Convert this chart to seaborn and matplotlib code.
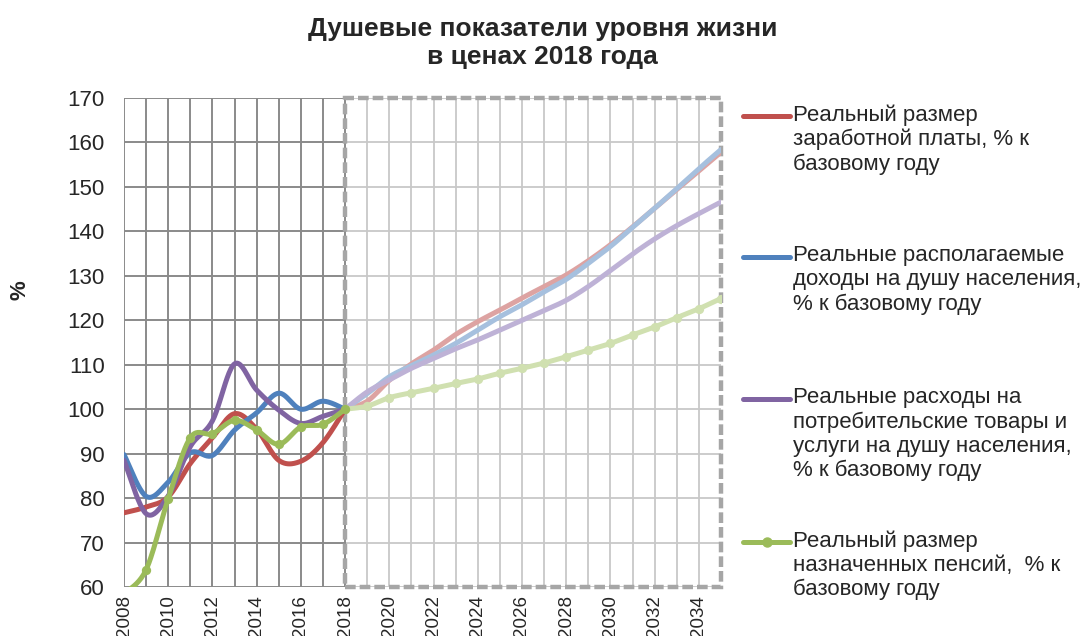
import numpy as np
import pandas as pd
import matplotlib
matplotlib.use("Agg")
import matplotlib.pyplot as plt
import seaborn as sns
from matplotlib.lines import Line2D
from matplotlib.patches import Rectangle

# --- данные ---
years_hist = list(range(2008, 2019))
years_fc = list(range(2018, 2036))

wage_hist = [76.7, 78.0, 80.3, 87.8, 93.6, 99.0, 95.5, 88.5, 88.3, 92.5, 100.0]
income_hist = [89.8, 80.4, 83.6, 90.2, 89.6, 95.3, 99.2, 103.6, 100.0, 101.8, 100.0]
cons_hist = [88.5, 76.5, 80.5, 91.6, 97.4, 110.2, 104.3, 99.8, 96.8, 98.4, 100.0]
pens_hist = [58.5, 63.9, 79.9, 93.6, 94.5, 97.5, 95.3, 92.1, 96.0, 96.6, 100.0]

wage_fc = [100.0, 101.8, 106.5, 110.2, 113.3, 116.8, 119.7, 122.3, 125.0, 127.6,
           130.2, 133.4, 137.0, 141.0, 145.2, 149.4, 153.6, 157.8]
income_fc = [100.0, 103.5, 107.3, 109.8, 112.2, 114.8, 117.8, 120.8, 123.5, 126.4,
             129.2, 132.8, 136.6, 140.9, 145.2, 149.6, 154.1, 158.4]
cons_fc = [100.0, 103.9, 106.6, 109.2, 111.4, 113.6, 115.6, 117.8, 120.0, 122.2,
           124.5, 127.6, 131.2, 134.9, 138.3, 141.3, 144.0, 146.6]
pens_fc = [100.0, 100.7, 102.6, 103.7, 104.7, 105.8, 106.8, 108.1, 109.2, 110.4,
           111.8, 113.3, 114.8, 116.7, 118.5, 120.6, 122.6, 124.9]

labels = [
    "Реальный размер\nзаработной платы, % к\nбазовому году",
    "Реальные располагаемые\nдоходы на душу населения,\n% к базовому году",
    "Реальные расходы на\nпотребительские товары и\nуслуги на душу населения,\n% к базовому году",
    "Реальный размер\nназначенных пенсий,  % к\nбазовому году",
]
colors_hist = ["#C0504D", "#4F81BD", "#8064A2", "#9BBB59"]
colors_fc = ["#DDA3A2", "#A6C0DE", "#BEB2D6", "#D0E0B0"]

y_ticks = list(range(60, 171, 10))
x_ticks = list(range(2008, 2035, 2))


def smooth(x, y, n=24):
    """Сглаживание как в Excel (Catmull-Rom), только для отрисовки."""
    x = np.asarray(x, float)
    y = np.asarray(y, float)
    px = np.concatenate([[x[0]], x, [x[-1]]])
    py = np.concatenate([[y[0]], y, [y[-1]]])
    xs, ys = [], []
    for i in range(1, len(px) - 2):
        t = np.linspace(0, 1, n, endpoint=(i == len(px) - 3))
        h00 = 2 * t**3 - 3 * t**2 + 1
        h10 = t**3 - 2 * t**2 + t
        h01 = -2 * t**3 + 3 * t**2
        h11 = t**3 - t**2
        for p, out in ((px, xs), (py, ys)):
            m0 = (p[i + 1] - p[i - 1]) / 2
            m1 = (p[i + 2] - p[i]) / 2
            out.append(h00 * p[i] + h10 * m0 + h01 * p[i + 1] + h11 * m1)
    return np.concatenate(xs), np.concatenate(ys)


sns.set_style("white")
plt.rcParams["font.family"] = ["Liberation Sans", "DejaVu Sans"]

fig = plt.figure(figsize=(10.85, 6.36), dpi=100)
ax = fig.add_axes([0.1143, 0.0770, 0.5502, 0.7689])
ax.set_xlim(2008, 2035)
ax.set_ylim(60, 170)

# сетка: тёмная для факта, светлая для прогноза
dark, light = "#8a8a8a", "#c8c8c8"
for yr in years_fc[1:-1]:
    ax.axvline(yr, color=light, lw=1.3, zorder=1)
for yv in y_ticks:
    ax.hlines(yv, 2018, 2035, color=light, lw=1.3, zorder=1)
for yr in years_hist:
    ax.axvline(yr, color=dark, lw=1.4, zorder=1.2)
for yv in y_ticks:
    ax.hlines(yv, 2008, 2018, color=dark, lw=1.4, zorder=1.2)

for s in ax.spines.values():
    s.set_visible(False)

# рамка прогноза
ax.add_patch(Rectangle((2018, 60), 17, 110, fill=False, ec="#a6a6a6", lw=3.2,
                       ls=(0, (2.4, 0.9)), clip_on=False, zorder=2))

hist = [wage_hist, income_hist, cons_hist, pens_hist]
fc = [wage_fc, income_fc, cons_fc, pens_fc]

for vals, c in zip(fc, colors_fc):
    xs, ys = smooth(years_fc, vals)
    sns.lineplot(x=xs, y=ys, ax=ax, color=c, lw=3.6, sort=False, estimator=None,
                 solid_capstyle="round", zorder=3)
sns.scatterplot(x=years_fc, y=pens_fc, ax=ax, color=colors_fc[3], s=45,
                linewidth=0, zorder=3.5)

for vals, c in zip(hist, colors_hist):
    xs, ys = smooth(years_hist, vals)
    sns.lineplot(x=xs, y=ys, ax=ax, color=c, lw=3.6, sort=False, estimator=None,
                 solid_capstyle="round", zorder=4)
sns.scatterplot(x=years_hist, y=pens_hist, ax=ax, color=colors_hist[3], s=45,
                linewidth=0, zorder=4.5)

ax.set_xticks(x_ticks)
ax.set_xticklabels([str(v) for v in x_ticks], rotation=90, fontsize=13.5)
ax.set_yticks(y_ticks)
ax.set_yticklabels([str(v) for v in y_ticks], fontsize=16)
ax.tick_params(axis="both", length=0)
ax.tick_params(axis="y", pad=14)
ax.tick_params(axis="x", pad=6)
ax.set_xlabel("")
ax.set_ylabel("")

fig.text(20 / 1085, 1 - 290 / 636, "%", rotation=90, fontsize=16,
         fontweight="bold", ha="center", va="center")
fig.text(0.5, 1 - 43 / 636, "Душевые показатели уровня жизни\nв ценах 2018 года",
         ha="center", va="center", fontsize=19, fontweight="bold",
         linespacing=1.2)

# легенда справа
leg_y = [116, 257, 399, 542]
for lab, c, yp in zip(labels, colors_hist, leg_y):
    yf = 1 - yp / 636
    fig.add_artist(Line2D([743 / 1085, 790 / 1085], [yf, yf], color=c, lw=3.6,
                          solid_capstyle="round", transform=fig.transFigure))
    fig.text(793 / 1085, yf + 12 / 636, lab, fontsize=16, ha="left", va="top",
             linespacing=1.2)
fig.add_artist(Line2D([766.5 / 1085], [1 - leg_y[3] / 636], marker="o",
                      ms=6.5, color=colors_hist[3], transform=fig.transFigure))

fig.savefig("out.png", dpi=100)
